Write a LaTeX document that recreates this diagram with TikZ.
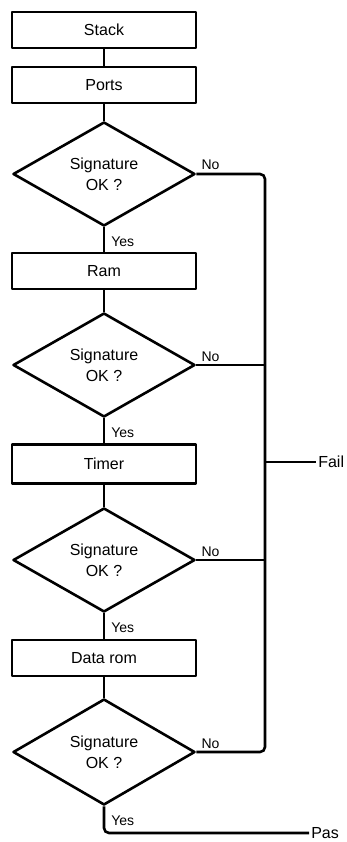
\documentclass[tikz,border=0pt]{standalone}
\usepackage{fontspec}
\setmainfont{Liberation Sans}
\usetikzlibrary{shapes.geometric}
\begin{document}
\begin{tikzpicture}[x=1pt,y=-1pt, line width=2.6pt, line join=round,
 box/.style={draw, minimum width=184pt, minimum height=36pt, inner sep=0pt, font=\fontsize{16}{19}\selectfont},
 decision/.style={draw, diamond, aspect=1.75, minimum width=182pt, minimum height=104pt, inner sep=0pt, align=center, font=\fontsize{16}{21}\selectfont},
 lbl/.style={font=\fontsize{14}{16}\selectfont, inner sep=0pt, anchor=base west},
 term/.style={font=\fontsize{16}{19}\selectfont, inner sep=1pt, anchor=west}]
\useasboundingbox (0,0) rectangle (347,842);
\node[box] (stack) at (104,30) {Stack};
\node[box] (ports) at (104,85) {Ports};
\node[decision] (d1) at (104,174) {Signature\\OK ?};
\node[box] (ram) at (104,271) {Ram};
\node[decision] (d2) at (104,365) {Signature\\OK ?};
\node[box, minimum height=39pt] (timer) at (104,464) {Timer};
\node[decision] (d3) at (104,560) {Signature\\OK ?};
\node[box] (datarom) at (104,658) {Data rom};
\node[decision, minimum height=106pt] (d4) at (104,752) {Signature\\OK ?};
\draw (stack) -- (ports);
\draw (ports) -- (d1);
\draw (d1) -- (ram);
\draw (ram) -- (d2);
\draw (d2) -- (timer);
\draw (timer) -- (d3);
\draw (d3) -- (datarom);
\draw (datarom) -- (d4);
\coordinate (ft) at (265,174);
\coordinate (fb) at (265,752);
\draw[rounded corners=5pt] (d1.east) -- (ft) -- (fb) -- (d4.east);
\draw (d2.east) -- (d2.east -| ft);
\draw (d3.east) -- (d3.east -| ft);
\node[term] (fail) at (316,462) {Fail};
\draw (fail.west -| ft) -- (fail.west);
\node[term] (pass) at (309,833) {Pas};
\draw[rounded corners=5pt] (d4.south) |- (pass.west);
\foreach \d in {1,2,3,4} {
  \node[lbl] (no\d) at ([shift={(4,-4)}]d\d.east) {No};
  \node[lbl] (yes\d) at ([shift={(6,19)}]d\d.south) {Yes};
}
\end{tikzpicture}
\end{document}
